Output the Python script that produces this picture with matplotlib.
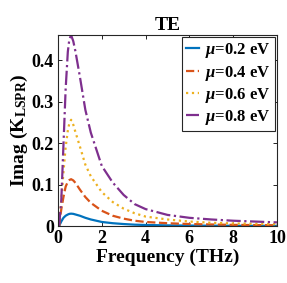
import matplotlib
matplotlib.use("Agg")
import matplotlib.pyplot as plt

plt.rcParams['font.family'] = ['Liberation Serif', 'DejaVu Serif']
plt.rcParams['font.weight'] = 'bold'
plt.rcParams['mathtext.fontset'] = 'custom'
plt.rcParams['mathtext.rm'] = 'Liberation Serif:bold'
plt.rcParams['mathtext.it'] = 'Liberation Serif:italic:bold'
plt.rcParams['mathtext.bf'] = 'Liberation Serif:bold'

freq = [0.05, 0.15, 0.25, 0.35, 0.45, 0.52, 0.6, 0.7, 0.8, 1.0, 1.25, 1.5, 2.0, 2.5,
        3.0, 3.5, 4.0, 5.0, 6.0, 7.0, 8.0, 9.0, 10.0]
mu02 = [0.0, 0.011, 0.020, 0.025, 0.028, 0.0295, 0.030, 0.0295, 0.028, 0.025, 0.020, 0.016,
        0.010, 0.007, 0.005, 0.0035, 0.0027, 0.0018, 0.0013, 0.0010, 0.0008, 0.0007, 0.0006]
mu04 = [0.0, 0.040, 0.070, 0.095, 0.107, 0.111, 0.113, 0.110, 0.104, 0.088, 0.070, 0.056,
        0.037, 0.025, 0.018, 0.013, 0.010, 0.007, 0.005, 0.004, 0.003, 0.0025, 0.002]
mu06 = [0.0, 0.060, 0.130, 0.190, 0.230, 0.248, 0.256, 0.244, 0.226, 0.192, 0.148, 0.120,
        0.082, 0.058, 0.042, 0.031, 0.023, 0.016, 0.011, 0.008, 0.0065, 0.0055, 0.0045]
mu08 = [0.0, 0.060, 0.195, 0.330, 0.420, 0.450, 0.460, 0.445, 0.420, 0.360, 0.280, 0.225,
        0.145, 0.105, 0.075, 0.053, 0.041, 0.027, 0.020, 0.016, 0.013, 0.011, 0.009]
labels = [r'$\mu$=0.2 eV', r'$\mu$=0.4 eV', r'$\mu$=0.6 eV', r'$\mu$=0.8 eV']
colors = ['#0072BD', '#D95319', '#EDB120', '#7E2F8E']
styles = ['-', '--', ':', '-.']
xticks = [0, 2, 4, 6, 8, 10]
yticks = [0, 0.1, 0.2, 0.3, 0.4]
yticklabels = ['0', '0.1', '0.2', '0.3', '0.4']

fig = plt.figure(figsize=(2.87, 2.83), dpi=100)
ax = fig.add_axes([0.202, 0.201, 0.763, 0.675])
for y, lab, c, s in zip([mu02, mu04, mu06, mu08], labels, colors, styles):
    ax.plot(freq, y, linestyle=s, color=c, lw=1.6, label=lab)

ax.set_xlim(0, 10)
ax.set_ylim(0, 0.46)
ax.set_xticks(xticks)
ax.set_xticklabels([str(t) for t in xticks])
ax.set_yticks(yticks)
ax.set_yticklabels(yticklabels)
ax.tick_params(direction='in', top=True, right=True, labelsize=13, length=3, width=0.6, pad=3)
for sp in ax.spines.values():
    sp.set_linewidth(0.8)
    sp.set_color('#262626')
ax.set_title('TE', fontsize=14, fontweight='bold', pad=4)
ax.set_xlabel('Frequency (THz)', fontsize=14, fontweight='bold', labelpad=1)
ax.set_ylabel(r'Imag (K$_{\mathrm{LSPR}}$)', fontsize=14, fontweight='bold', labelpad=1)
leg = ax.legend(loc='upper right', fontsize=12, handlelength=0.75, handletextpad=0.4,
                borderpad=0.25, labelspacing=0.2, borderaxespad=0.12, fancybox=False,
                framealpha=1)
leg.get_frame().set_edgecolor('#262626')
leg.get_frame().set_linewidth(0.8)
fig.savefig('out.png', dpi=100)
